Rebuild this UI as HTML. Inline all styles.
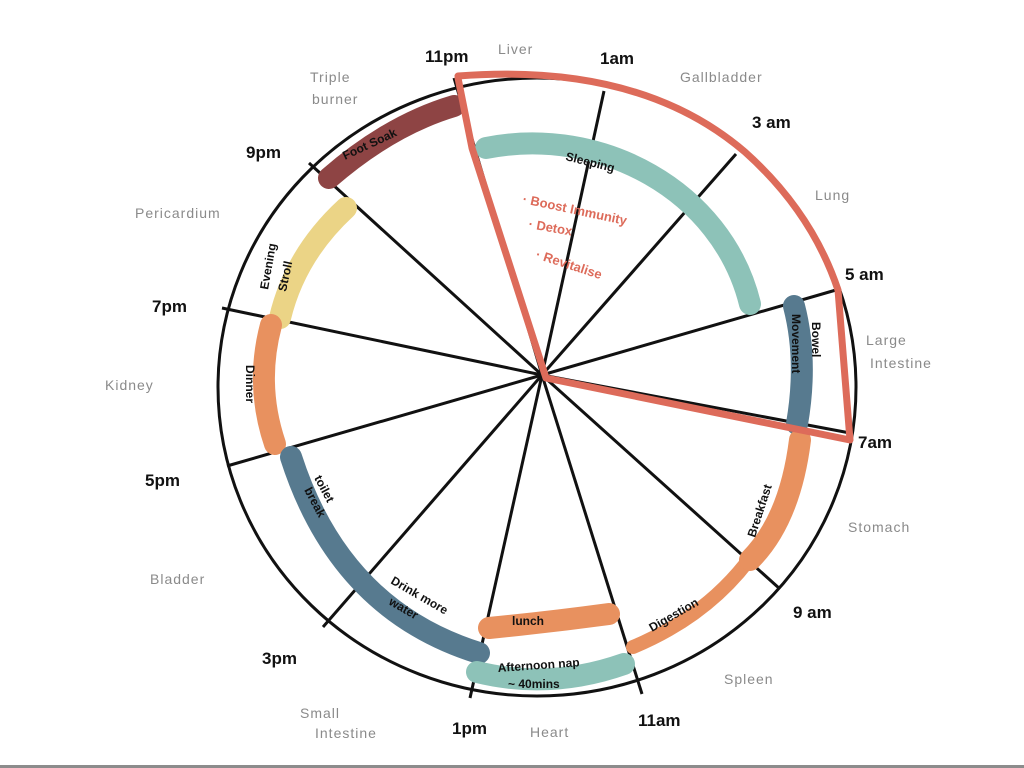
<!DOCTYPE html>
<html><head><meta charset="utf-8"><style>
html,body{margin:0;padding:0;background:#fff;width:1024px;height:768px;overflow:hidden}
svg{display:block}
.t{font-family:"Liberation Sans",sans-serif;font-weight:bold;font-size:17px;fill:#111}
.o{font-family:"Liberation Sans",sans-serif;font-size:14px;fill:#8a8a8a;letter-spacing:1px}
.b{font-family:"Liberation Sans",sans-serif;font-weight:bold;font-size:12px;fill:#111}
.r{font-family:"Liberation Sans",sans-serif;font-size:13px;fill:#dd6b5a;font-weight:bold}
</style></head><body>
<svg width="1024" height="768" viewBox="0 0 1024 768">
<rect x="0" y="765" width="1024" height="3" fill="#8c8c8c"/>
<ellipse cx="537" cy="387" rx="319" ry="309" fill="none" stroke="#111" stroke-width="3"/>
<g stroke="#111" stroke-width="3">
<line x1="542" y1="375" x2="454" y2="78"/>
<line x1="542" y1="375" x2="604" y2="91"/>
<line x1="542" y1="375" x2="736" y2="154"/>
<line x1="542" y1="375" x2="836" y2="290"/>
<line x1="542" y1="375" x2="850" y2="433"/>
<line x1="542" y1="375" x2="780" y2="589"/>
<line x1="542" y1="375" x2="642" y2="694"/>
<line x1="542" y1="375" x2="470" y2="698"/>
<line x1="542" y1="375" x2="323" y2="627"/>
<line x1="542" y1="375" x2="227" y2="466"/>
<line x1="542" y1="375" x2="222" y2="308"/>
<line x1="542" y1="375" x2="309" y2="163"/>
</g>
<g fill="none" stroke-linecap="round" stroke-width="22">
<path d="M486,148 C600,125 722,190 750,304" stroke="#8dc2b8"/>
<path d="M329,178 Q390,125 454,106" stroke="#8e4444"/>
<path d="M346,208 Q295,255 280,318" stroke="#ebd486"/>
<path d="M271,325 Q255,385 275,444" stroke="#e8915f"/>
<path d="M291,457 Q340,610 479,653" stroke="#577a8f"/>
<path d="M489,628 Q550,622 609,614" stroke="#e8915f"/>
<path d="M477,672 Q550,690 624,664" stroke="#8dc2b8"/>
<path d="M794,306 Q808,360 797,424" stroke="#577a8f"/>
</g>
<path d="M633,647 Q770,590 803,437" fill="none" stroke="#e8915f" stroke-width="14" stroke-linecap="round"/>
<path d="M800,440 Q790,520 750,560" fill="none" stroke="#e8915f" stroke-width="22" stroke-linecap="round"/>
<path d="M458,76 Q640,62 745,152 Q812,212 838,290 L850,440 L546,378 L472,148 L458,78" fill="none" stroke="#dd6b5a" stroke-width="7" stroke-linejoin="round" stroke-linecap="round"/>
<text class="t" x="425" y="62">11pm</text>
<text class="o" x="498" y="54">Liver</text>
<text class="t" x="600" y="64">1am</text>
<text class="o" x="680" y="82">Gallbladder</text>
<text class="t" x="752" y="128">3 am</text>
<text class="o" x="815" y="200">Lung</text>
<text class="t" x="845" y="280">5 am</text>
<text class="o" x="866" y="345">Large</text>
<text class="o" x="870" y="368">Intestine</text>
<text class="t" x="858" y="448">7am</text>
<text class="o" x="848" y="532">Stomach</text>
<text class="t" x="793" y="618">9 am</text>
<text class="o" x="724" y="684">Spleen</text>
<text class="t" x="638" y="726">11am</text>
<text class="o" x="530" y="737">Heart</text>
<text class="t" x="452" y="734">1pm</text>
<text class="o" x="300" y="718">Small</text>
<text class="o" x="315" y="738">Intestine</text>
<text class="t" x="262" y="664">3pm</text>
<text class="o" x="150" y="584">Bladder</text>
<text class="t" x="145" y="486">5pm</text>
<text class="o" x="105" y="390">Kidney</text>
<text class="t" x="152" y="312">7pm</text>
<text class="o" x="135" y="218">Pericardium</text>
<text class="t" x="246" y="158">9pm</text>
<text class="o" x="310" y="82">Triple</text>
<text class="o" x="312" y="104">burner</text>
<text class="b" transform="translate(345,160) rotate(-25)">Foot Soak</text>
<text class="b" transform="translate(565,160) rotate(14)">Sleeping</text>
<text class="b" transform="translate(268,290) rotate(-80)">Evening</text>
<text class="b" transform="translate(286,292) rotate(-78)">Stroll</text>
<text class="b" transform="translate(246,365) rotate(90)">Dinner</text>
<text class="b" transform="translate(314,478) rotate(62)">toilet</text>
<text class="b" transform="translate(304,490) rotate(62)">break</text>
<text class="b" transform="translate(390,583) rotate(30)">Drink more</text>
<text class="b" transform="translate(388,604) rotate(30)">water</text>
<text class="b" x="512" y="625">lunch</text>
<text class="b" transform="translate(498,672) rotate(-4)">Afternoon nap</text>
<text class="b" x="508" y="688">~ 40mins</text>
<text class="b" transform="translate(652,632) rotate(-30)">Digestion</text>
<text class="b" transform="translate(755,538) rotate(-72)">Breakfast</text>
<text class="b" transform="translate(812,322) rotate(90)">Bowel</text>
<text class="b" transform="translate(792,314) rotate(90)">Movement</text>
<text class="r" transform="translate(522,203) rotate(12)">· Boost Immunity</text>
<text class="r" transform="translate(528,228) rotate(10)">· Detox</text>
<text class="r" transform="translate(535,258) rotate(18)">· Revitalise</text>
</svg>
</body></html>
